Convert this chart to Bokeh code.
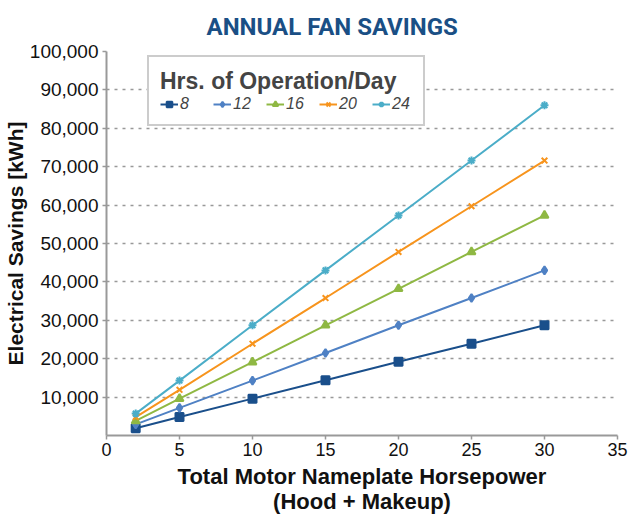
from bokeh.plotting import figure
from bokeh.models import Range1d, FixedTicker, NumeralTickFormatter, Legend, LegendItem
from bokeh.embed import file_html
from bokeh.resources import INLINE

hp = [2, 5, 10, 15, 20, 25, 30]
hours = ["8", "12", "16", "20", "24"]
s8 = [1900, 4800, 9600, 14400, 19200, 23900, 28700]
s12 = [2900, 7200, 14300, 21500, 28700, 35800, 43000]
s16 = [3800, 9600, 19100, 28700, 38200, 47800, 57300]
s20 = [4800, 11900, 23900, 35800, 47800, 59700, 71600]
s24 = [5700, 14300, 28700, 43000, 57300, 71600, 86000]
series = [s8, s12, s16, s20, s24]
colors = ["#1a4f8b", "#4f81c4", "#8fb843", "#f7941d", "#4badc8"]
markers = ["square", "diamond", "triangle", "x", "asterisk"]
y_ticks = [10000, 20000, 30000, 40000, 50000, 60000, 70000, 80000, 90000, 100000]
x_ticks = [0, 5, 10, 15, 20, 25, 30, 35]

W, H = 628, 517
p = figure(width=W, height=H, output_backend="svg", toolbar_location=None,
           x_range=Range1d(0, 35), y_range=Range1d(0, 100000),
           min_border_left=95, min_border_right=11, min_border_top=50, min_border_bottom=82)

p.title.text = "ANNUAL FAN SAVINGS"
p.title.text_font = "Roboto"
p.title.text_font_style = "bold"
p.title.text_font_size = "24px"
p.title.text_line_height = 1.0
p.title.text_color = "#1a4f85"
p.title.align = "left"
p.title.offset = 100
p.title.standoff = 21

p.outline_line_color = None
p.background_fill_color = "white"
p.xgrid.grid_line_color = None
p.ygrid.grid_line_color = "#999999"
p.ygrid.grid_line_dash = "3 5"
p.ygrid.grid_line_width = 1.5

p.xaxis.ticker = FixedTicker(ticks=x_ticks)
p.yaxis.ticker = FixedTicker(ticks=y_ticks)
p.yaxis.formatter = NumeralTickFormatter(format="0,0")
for ax in (p.xaxis, p.yaxis):
    ax.axis_line_color = "#999999"
    ax.axis_line_width = 2
    ax.major_tick_line_color = "#999999"
    ax.major_tick_line_width = 1.5
    ax.major_tick_out = 4
    ax.major_tick_in = 0
    ax.minor_tick_line_color = None
    ax.major_label_text_font = "Liberation Sans"
    ax.major_label_text_font_size = "19px"
    ax.major_label_text_color = "#111111"
    ax.axis_label_text_font = "Liberation Sans"
    ax.axis_label_text_font_style = "bold"
    ax.axis_label_text_color = "#111111"
p.xaxis.major_label_text_font_size = "18px"
p.xaxis.axis_label = "Total Motor Nameplate Horsepower\n(Hood + Makeup)"
p.xaxis.axis_label_text_font_size = "22px"
p.xaxis.axis_label_text_line_height = 1.0
p.xaxis.axis_label_standoff = 5
p.yaxis.axis_label = "Electrical Savings [kWh]"
p.yaxis.axis_label_text_font_size = "21px"
p.yaxis.axis_label_standoff = 0
p.xaxis.major_label_standoff = 3
p.yaxis.major_label_standoff = 4

items = []
for name, vals, c, m in zip(hours, series, colors, markers):
    r1 = p.line(hp, vals, line_color=c, line_width=2)
    r2 = p.scatter(hp, vals, marker=m, size=8, fill_color=c, line_color=c, line_width=2)
    items.append(LegendItem(label=name, renderers=[r1, r2]))

legend = Legend(items=items, orientation="horizontal", location=(41, 309))
legend.title = "Hrs. of Operation/Day"
legend.title_text_font = "Liberation Sans"
legend.title_text_font_style = "bold"
legend.title_text_font_size = "23px"
legend.title_standoff = 0
legend.label_text_font = "Liberation Sans"
legend.label_text_font_style = "italic"
legend.label_text_font_size = "16px"
legend.label_standoff = 2
legend.label_height = 14
legend.glyph_width = 18
legend.glyph_height = 14
legend.spacing = 13
legend.padding = 11
legend.border_line_color = "#999999"
legend.border_line_width = 2
legend.background_fill_alpha = 1
p.add_layout(legend, "center")

open("out.html", "w").write(file_html(p, INLINE))
